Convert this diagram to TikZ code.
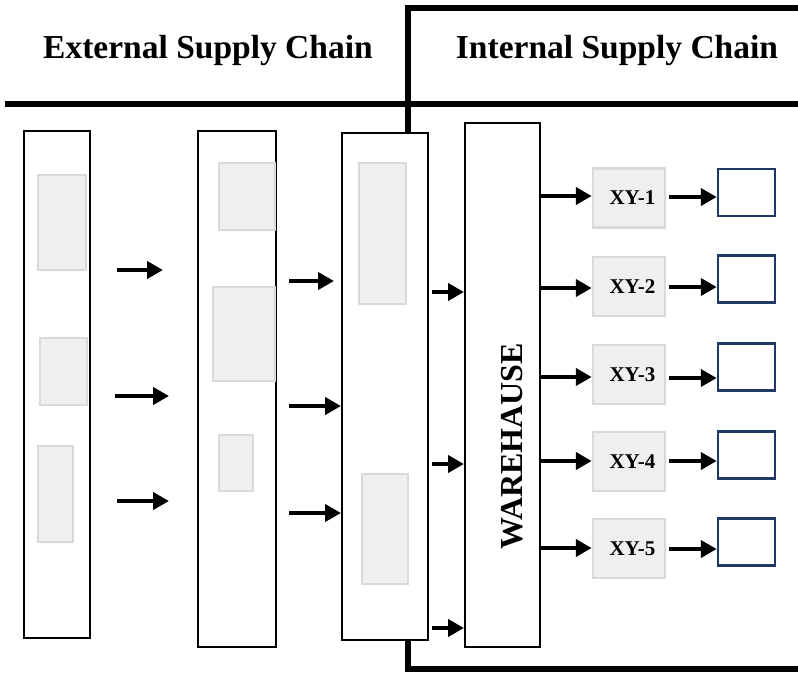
\documentclass[tikz,border=0pt]{standalone}
\usepackage{fontspec}
\setmainfont{Liberation Serif}
\usetikzlibrary{arrows.meta}
\definecolor{gfill}{HTML}{EFEFEF}
\definecolor{gline}{HTML}{D9D9D9}
\definecolor{navy}{HTML}{1F3864}
\tikzset{
  colbox/.style={draw=black, line width=2pt, fill=white, inner sep=0pt},
  graybox/.style={draw=gline, fill=gfill, line width=2.5pt, inner sep=0pt},
  xybox/.style={draw=gline, fill=gfill, line width=2.5pt, inner sep=0pt, minimum width=72pt, minimum height=59pt, font=\bfseries\fontsize{21}{21}\selectfont},
  outbox/.style={draw=navy, line width=2.5pt, fill=white, inner sep=0pt, minimum width=57pt, minimum height=47pt},
  arr/.style={line width=4.5pt, -{Triangle[length=16pt 0 0,width=17pt 0 0]}},
  thick line/.style={line width=5.5pt},
  title/.style={font=\bfseries\fontsize{33.5}{33.5}\selectfont, inner sep=0pt}
}
\begin{document}
\begin{tikzpicture}[x=1pt,y=-1pt]
\useasboundingbox (0,0) rectangle (798,673);
% titles
\node[title] (t1) at (208,50) {External Supply Chain};
\node[title] (t2) at (617,50) {Internal Supply Chain};
% columns
\node[colbox, minimum width=66pt, minimum height=507pt] (c1) at (57,384.5) {};
\node[colbox, minimum width=78pt, minimum height=516pt] (c2) at (237,389) {};
\node[colbox, minimum width=86pt, minimum height=507pt] (c3) at (385,386.5) {};
\node[colbox, minimum width=75pt, minimum height=524pt] (w) at (502.5,385) {};
\node[rotate=90, font=\bfseries\fontsize{32}{32}\selectfont, inner sep=0pt] (wt) at (512,446) {WAREHAUSE};
% border lines
\draw[thick line] (5,104) -- (798,104);
\coordinate (tl) at (408,8);
\draw[thick line] (c3.north -| tl) -- (tl) -- (798,8);
\coordinate (bl) at (408,669);
\draw[thick line] (c3.south -| bl) -- (bl) -- (798,669);
% gray inner boxes
\node[graybox, minimum width=48pt, minimum height=95pt] (g11) at (62,222.5) {};
\node[graybox, minimum width=47pt, minimum height=67pt] (g12) at (63.5,371.5) {};
\node[graybox, minimum width=35pt, minimum height=96pt] (g13) at (55.5,494) {};
\node[graybox, minimum width=56pt, minimum height=67pt] (g21) at (247,196.5) {};
\node[graybox, minimum width=62pt, minimum height=94pt] (g22) at (244,334) {};
\node[graybox, minimum width=34pt, minimum height=56pt] (g23) at (236,463) {};
\node[graybox, minimum width=47pt, minimum height=141pt] (g31) at (382.5,233.5) {};
\node[graybox, minimum width=46pt, minimum height=110pt] (g32) at (385,529) {};
% arrows col1 -> col2
\coordinate (a1s) at (117,270); \coordinate (a1e) at (163,270);
\coordinate (a2s) at (115,396); \coordinate (a2e) at (169,396);
\coordinate (a3s) at (117,501); \coordinate (a3e) at (169,501);
\draw[arr] (a1s) -- (a1e);
\draw[arr] (a2s) -- (a2e);
\draw[arr] (a3s) -- (a3e);
% arrows col2 -> col3
\coordinate (b1s) at (289,281); \coordinate (b1e) at (334,281);
\coordinate (b2s) at (289,406);
\coordinate (b3s) at (289,513);
\draw[arr] (b1s) -- (b1e);
\draw[arr] (b2s) -- (b2s -| c3.west);
\draw[arr] (b3s) -- (b3s -| c3.west);
% arrows col3 -> warehouse
\coordinate (d1s) at (432,292);
\coordinate (d2s) at (432,464);
\coordinate (d3s) at (432,628);
\draw[arr] (d1s) -- (d1s -| w.west);
\draw[arr] (d2s) -- (d2s -| w.west);
\draw[arr] (d3s) -- (d3s -| w.west);
% XY boxes and outputs
\foreach \i/\y/\oy in {1/198/192.5, 2/286.5/279, 3/374.5/367, 4/461.5/455, 5/548.5/542}{
  \node[xybox] (x\i) at (629,\y) {\hspace{7pt}XY-\i};
  \node[outbox] (o\i) at (746.5,\oy) {};
}
\foreach \i/\ay in {1/196, 2/288, 3/377, 4/461, 5/548}{
  \coordinate (ws\i) at (541,\ay);
  \draw[arr] (ws\i) -- (ws\i -| x\i.west);
}
\foreach \i/\ay in {1/197, 2/287, 3/378, 4/461, 5/549}{
  \coordinate (xs\i) at (669,\ay);
  \draw[arr] (xs\i) -- (xs\i -| o\i.west);
}
\end{tikzpicture}
\end{document}
